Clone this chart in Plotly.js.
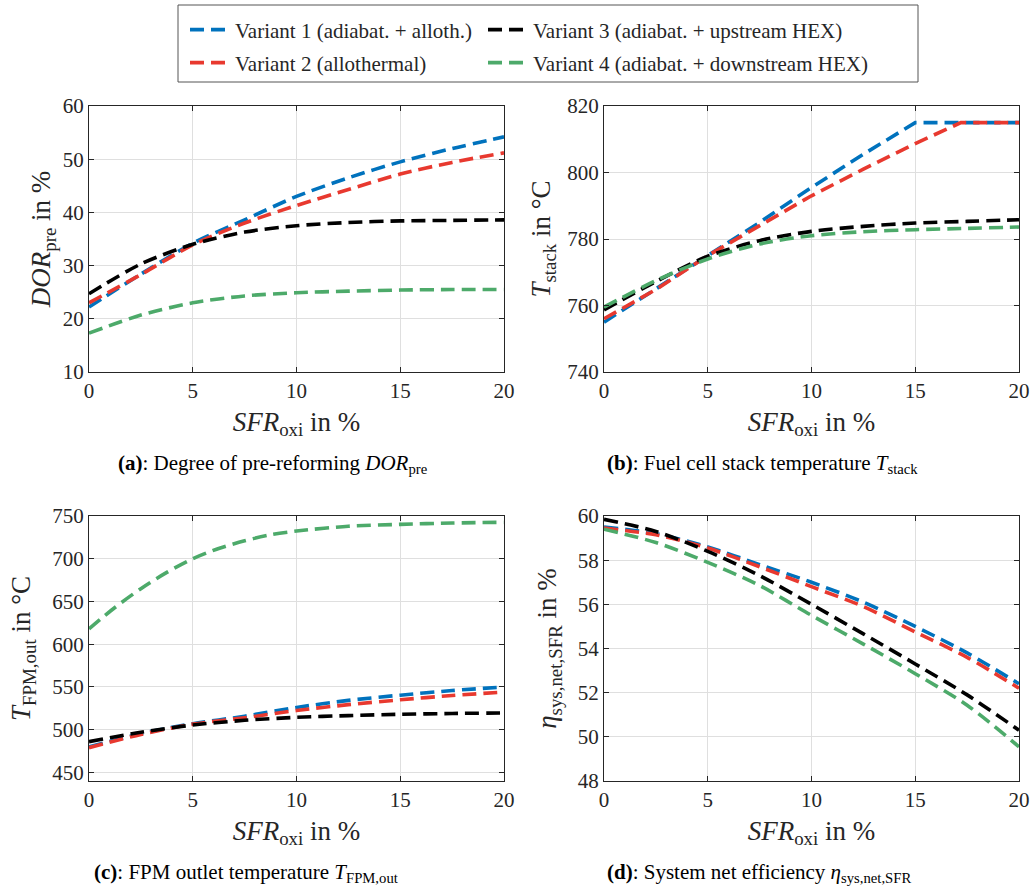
<!DOCTYPE html>
<html>
<head>
<meta charset="utf-8">
<script src="https://cdn.plot.ly/plotly-3.0.1.min.js"></script>
<style>html,body{margin:0;padding:0;background:#fff;}#chart{width:1031px;height:888px;}</style>
</head>
<body>
<div id="chart"></div>
<script>
// ---- data ----
const sfr = [0, 2.5, 5, 7.5, 10, 12.5, 15, 17.5, 20];
const sfrRedStack = [0, 2.5, 5, 7.5, 10, 12.5, 15, 17.2, 20];
const sfrFine = [0, 1.25, 2.5, 3.75, 5, 6.25, 7.5, 8.75, 10, 12.5, 15, 17.5, 20];

const seriesNames = [
  "Variant 1 (adiabat. + alloth.)",
  "Variant 2 (allothermal)",
  "Variant 3 (adiabat. + upstream HEX)",
  "Variant 4 (adiabat. + downstream HEX)"
];

// (a) degree of pre-reforming in %
const dorV1 = [22.2, 28.4, 34.2, 38.6, 43.0, 46.5, 49.5, 52.0, 54.2];
const dorV2 = [23.0, 28.3, 33.9, 38.0, 41.3, 44.3, 47.2, 49.4, 51.2];
const dorV3 = [24.7, 30.3, 34.0, 36.3, 37.5, 38.1, 38.4, 38.5, 38.6];
const dorV4 = [17.3, 20.7, 23.0, 24.3, 24.9, 25.2, 25.4, 25.5, 25.5];

// (b) stack temperature in degC
const tstV1 = [755.0, 765.0, 775.0, 785.0, 795.5, 805.5, 815.0, 815.0, 815.0];
const tstV2 = [756.0, 764.8, 775.0, 784.0, 793.0, 801.0, 808.7, 815.0, 815.0];
const tstV3 = [758.7, 767.2, 774.8, 779.5, 782.3, 783.8, 784.8, 785.3, 785.8];
const tstV4 = [759.5, 767.5, 774.0, 778.5, 781.0, 782.2, 782.8, 783.2, 783.6];

// (c) FPM outlet temperature in degC
const tfpV1 = [480.0, 495.5, 507.0, 515.8, 526.0, 534.3, 540.4, 545.8, 550.0];
const tfpV2 = [479.0, 494.5, 506.5, 514.0, 522.5, 529.3, 535.0, 540.0, 544.0];
const tfpV3 = [486.0, 497.0, 505.5, 511.0, 514.5, 516.5, 518.0, 519.0, 519.6];
const tfpV4 = [618.0, 643.0, 665.0, 684.0, 700.0, 712.0, 721.0, 728.0, 732.4, 738.0, 740.2, 741.8, 742.6];

// (d) system net efficiency in %
const etaV1 = [59.5, 59.2, 58.6, 57.8, 57.0, 56.1, 55.0, 53.8, 52.4];
const etaV2 = [59.45, 59.15, 58.55, 57.7, 56.8, 55.9, 54.75, 53.6, 52.2];
const etaV3 = [59.85, 59.3, 58.4, 57.3, 56.0, 54.66, 53.3, 51.9, 50.3];
const etaV4 = [59.4, 58.8, 57.9, 56.85, 55.5, 54.2, 52.86, 51.43, 49.55];

const xTicks = [0, 5, 10, 15, 20];
const yTicksA = [10, 20, 30, 40, 50, 60];
const yTicksB = [740, 760, 780, 800, 820];
const yTicksC = [450, 500, 550, 600, 650, 700, 750];
const yTicksD = [48, 50, 52, 54, 56, 58, 60];

// ---- styling ----
const colors = ["#0072BD", "#E8392F", "#000000", "#4DAA6A"];
const W = 1031, H = 888;
const px = v => v / W;
const py = v => 1 - v / H;
const SERIF = "'Liberation Serif', 'Times New Roman', serif";
const DASH = "14px,7px";
const LW = 3.6;

const panels = [
  {xa: "x", ya: "y", ys: [dorV1, dorV2, dorV3, dorV4]},
  {xa: "x2", ya: "y2", ys: [tstV1, tstV2, tstV3, tstV4]},
  {xa: "x3", ya: "y3", ys: [tfpV1, tfpV2, tfpV3, tfpV4]},
  {xa: "x4", ya: "y4", ys: [etaV1, etaV2, etaV3, etaV4]}
];
const legendIds = ["legend", "legend3", "legend2", "legend4"];

const traces = [];
panels.forEach((p, pi) => {
  p.ys.forEach((yv, si) => {
    let xs = sfr;
    if (pi === 1 && si === 1) xs = sfrRedStack;
    if (pi === 2 && si === 3) xs = sfrFine;
    const kinked = (pi === 1 && si <= 1);
    traces.push({
      type: "scatter", mode: "lines",
      x: xs, y: yv, xaxis: p.xa, yaxis: p.ya,
      name: seriesNames[si],
      legend: legendIds[si],
      showlegend: pi === 0,
      line: {color: colors[si], width: LW, dash: DASH,
             shape: kinked ? "linear" : "spline", smoothing: 0.8},
      hoverinfo: "skip"
    });
  });
});

const xTitle = "<i>SFR</i><sub>oxi</sub> in %";
const tickFont = {family: SERIF, size: 21, color: "#262626"};
const titleFont = {family: SERIF, size: 27, color: "#262626"};

function xAxis(domain, anchor) {
  return {
    domain: domain, anchor: anchor, range: [0, 20], tickvals: xTicks,
    showgrid: true, gridcolor: "#DFDFDF", gridwidth: 1, zeroline: false,
    showline: true, linecolor: "#262626", linewidth: 1, mirror: "ticks",
    ticks: "inside", ticklen: 5, tickcolor: "#262626",
    tickfont: tickFont,
    title: {text: xTitle, font: titleFont, standoff: 9}
  };
}
function yAxis(domain, anchor, range, ticks, title, standoff) {
  return {
    domain: domain, anchor: anchor, range: range, tickvals: ticks,
    showgrid: true, gridcolor: "#DFDFDF", gridwidth: 1, zeroline: false,
    showline: true, linecolor: "#262626", linewidth: 1, mirror: "ticks",
    ticks: "inside", ticklen: 5, tickcolor: "#262626",
    tickfont: tickFont,
    title: {text: title, font: titleFont, standoff: standoff}
  };
}

const dxL = [px(89), px(504)], dxR = [px(604), px(1019)];
const dyT = [py(372), py(106)], dyB = [py(781), py(516)];

function leg(xp, yp) {
  return {x: px(xp), y: py(yp), xanchor: "left", yanchor: "middle",
    bgcolor: "rgba(0,0,0,0)", borderwidth: 0, itemwidth: 40,
    font: {family: SERIF, size: 21, color: "#262626"}};
}

const layout = {
  width: W, height: H,
  margin: {l: 0, r: 0, t: 0, b: 0},
  paper_bgcolor: "#fff", plot_bgcolor: "#fff",
  font: {family: SERIF},
  xaxis: xAxis(dxL, "y"),
  yaxis: yAxis(dyT, "x", [10, 60], yTicksA, "<i>DOR</i><sub>pre</sub> in %", 4),
  xaxis2: xAxis(dxR, "y2"),
  yaxis2: yAxis(dyT, "x2", [740, 820], yTicksB, "<i>T</i><sub>stack</sub> in °C", 8),
  xaxis3: xAxis(dxL, "y3"),
  yaxis3: yAxis(dyB, "x3", [440, 750], yTicksC, "<i>T</i><sub>FPM,out</sub> in °C", 13),
  xaxis4: xAxis(dxR, "y4"),
  yaxis4: yAxis(dyB, "x4", [48, 60], yTicksD, "<i>η</i><sub>sys,net,SFR</sub> in %", 13),
  legend: leg(185, 30),
  legend2: leg(483, 30),
  legend3: leg(185, 63),
  legend4: leg(483, 63),
  shapes: [{
    type: "rect", xref: "paper", yref: "paper",
    x0: px(178), x1: px(918), y0: py(82), y1: py(5),
    line: {color: "#555", width: 1}, fillcolor: "rgba(0,0,0,0)"
  }],
  annotations: [
    {text: "<b>(a)</b>: Degree of pre-reforming <i>DOR</i><sub>pre</sub>", x: px(273), y: py(464)},
    {text: "<b>(b)</b>: Fuel cell stack temperature <i>T</i><sub>stack</sub>", x: px(762), y: py(464)},
    {text: "<b>(c)</b>: FPM outlet temperature <i>T</i><sub>FPM,out</sub>", x: px(246), y: py(873)},
    {text: "<b>(d)</b>: System net efficiency <i>η</i><sub>sys,net,SFR</sub>", x: px(759), y: py(873)}
  ].map(a => Object.assign({xref: "paper", yref: "paper", xanchor: "center", yanchor: "middle",
    showarrow: false, font: {family: SERIF, size: 21, color: "#000"}}, a))
};

Plotly.newPlot("chart", traces, layout, {staticPlot: true, displayModeBar: false});
</script>
</body>
</html>
